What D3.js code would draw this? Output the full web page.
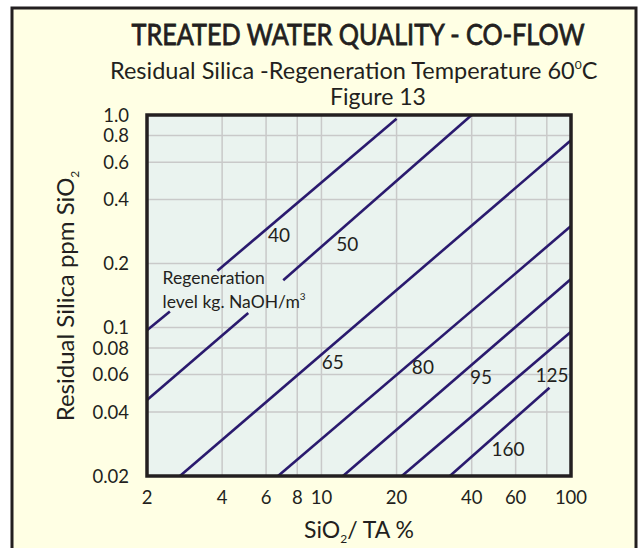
<!DOCTYPE html>
<html>
<head>
<meta charset="utf-8">
<script src="https://cdn.jsdelivr.net/npm/d3@7"></script>
<style>
  body { margin: 0; background: #fff; }
  text { font-family: Lato, "Open Sans", sans-serif; fill: #231f20; }
</style>
</head>
<body>
<div id="chart"></div>
<script>
// values
var xTicks = [2, 4, 6, 8, 10, 20, 40, 60, 100];
var xGrid = [4, 6, 8, 10, 20, 40, 60, 80];
var yTicks = [0.02, 0.04, 0.06, 0.08, 0.1, 0.2, 0.4, 0.6, 0.8, 1.0];
var yTickText = ['0.02', '0.04', '0.06', '0.08', '0.1', '0.2', '0.4', '0.6', '0.8', '1.0'];
var yGrid = [0.04, 0.06, 0.08, 0.1, 0.2, 0.4, 0.6, 0.8];

var levels = [40, 50, 65, 80, 95, 125, 160];
// line segments for each level, [x, y] in SiO2/TA % and ppm SiO2
var levelSegments = [
  [[[2, 0.097], [2.47, 0.119]], [[3.83, 0.185], [20, 0.96]]],
  [[[2, 0.0456], [5.09, 0.117]], [[7.03, 0.167], [40, 1.0]]],
  [[[2.71, 0.02], [100, 0.76]]],
  [[[6.7, 0.02], [100, 0.30]]],
  [[[12.2, 0.02], [100, 0.169]]],
  [[[21, 0.02], [100, 0.0955]]],
  [[[32.7, 0.02], [82, 0.052]]]
];
// where each level number sits (centre of text)
var levelLabelAt = [[6.76, 0.272], [12.7, 0.247], [11.1, 0.0688], [25.5, 0.0652], [43.6, 0.0585], [83.9, 0.0598], [55.9, 0.0268]];

var width = 643, height = 548;
var svg = d3.select('#chart')
            .append('svg')
            .attr('width', width)
            .attr('height', height)

svg.append('rect')
    .attr('x', 12).attr('y', 8)
    .attr('width', 624).attr('height', 570)
    .attr('fill', '#ffffe4')
    .attr('stroke', '#231f20')
    .attr('stroke-width', 3)

var x = d3.scaleLog().domain([2, 100]).range([147, 571]);
var y = d3.scaleLog().domain([0.02, 1.0]).range([476, 115]);

// titles
svg.append('text')
    .attr('x', 358).attr('y', 45)
    .attr('text-anchor', 'middle')
    .attr('font-size', 28)
    .attr('stroke', '#231f20')
    .attr('stroke-width', 0.8)
    .attr('textLength', 453)
    .attr('lengthAdjust', 'spacingAndGlyphs')
    .text('TREATED WATER QUALITY - CO-FLOW')

var sub = svg.append('text')
    .attr('x', 110).attr('y', 79)
    .attr('font-size', 23.5)
sub.append('tspan').text('Residual Silica -Regeneration Temperature 60')
sub.append('tspan').attr('font-size', 12).attr('dy', -10).text('0')
sub.append('tspan').attr('dy', 10).text('C')

svg.append('text')
    .attr('x', 378).attr('y', 105)
    .attr('text-anchor', 'middle')
    .attr('font-size', 23)
    .text('Figure 13')

// plot area
var plot = svg.append('g')
plot.append('rect')
    .attr('x', x(2)).attr('y', y(1.0))
    .attr('width', x(100) - x(2)).attr('height', y(0.02) - y(1.0))
    .attr('fill', '#eaf3ef')

plot.selectAll('.xgrid')
    .data(xGrid)
    .enter().append('line')
    .attr('x1', d => x(d)).attr('x2', d => x(d))
    .attr('y1', y(0.02)).attr('y2', y(1.0))
    .attr('stroke', '#c9c9c9').attr('stroke-width', 1.5)

plot.selectAll('.ygrid')
    .data(yGrid)
    .enter().append('line')
    .attr('x1', x(2)).attr('x2', x(100))
    .attr('y1', d => y(d)).attr('y2', d => y(d))
    .attr('stroke', '#c9c9c9').attr('stroke-width', 1.5)

var lineGen = d3.line().x(d => x(d[0])).y(d => y(d[1]));

levelSegments.forEach(function (segs) {
    plot.selectAll(null)
        .data(segs)
        .enter().append('path')
        .attr('d', lineGen)
        .attr('fill', 'none')
        .attr('stroke', '#2a1a6e')
        .attr('stroke-width', 2.6)
});

plot.selectAll('.lvl')
    .data(levels)
    .enter().append('text')
    .attr('x', (d, i) => x(levelLabelAt[i][0]))
    .attr('y', (d, i) => y(levelLabelAt[i][1]))
    .attr('dy', '0.35em')
    .attr('text-anchor', 'middle')
    .attr('font-size', 19)
    .text(d => d)

var note = plot.append('text').attr('font-size', 17.5)
note.append('tspan').attr('x', x(2.31)).attr('y', y(0.160)).text('Regeneration')
note.append('tspan').attr('x', x(2.31)).attr('y', y(0.123)).text('level kg. NaOH/m')
note.append('tspan').attr('font-size', 10).attr('dy', -8).text('3')

plot.append('rect')
    .attr('x', x(2)).attr('y', y(1.0))
    .attr('width', x(100) - x(2)).attr('height', y(0.02) - y(1.0))
    .attr('fill', 'none')
    .attr('stroke', '#231f20')
    .attr('stroke-width', 3.5)

// tick labels
svg.selectAll('.ytick')
    .data(yTicks)
    .enter().append('text')
    .attr('x', 129)
    .attr('y', d => y(d))
    .attr('dy', '0.36em')
    .attr('text-anchor', 'end')
    .attr('font-size', 18.5)
    .text((d, i) => yTickText[i])

svg.selectAll('.xtick')
    .data(xTicks)
    .enter().append('text')
    .attr('x', d => x(d))
    .attr('y', 504)
    .attr('text-anchor', 'middle')
    .attr('font-size', 18.5)
    .text(d => d)

// axis titles
var xTitle = svg.append('text')
    .attr('x', 359).attr('y', 538)
    .attr('text-anchor', 'middle')
    .attr('font-size', 23)
xTitle.append('tspan').text('SiO')
xTitle.append('tspan').attr('font-size', 12).attr('dy', 5).text('2')
xTitle.append('tspan').attr('dy', -5).text('/ TA %')

var yTitle = svg.append('g').attr('transform', 'translate(74,296)rotate(-90)')
var yt = yTitle.append('text')
    .attr('text-anchor', 'middle')
    .attr('font-size', 24)
yt.append('tspan').text('Residual Silica ppm SiO')
yt.append('tspan').attr('font-size', 12).attr('dy', 5).text('2')
</script>
</body>
</html>
